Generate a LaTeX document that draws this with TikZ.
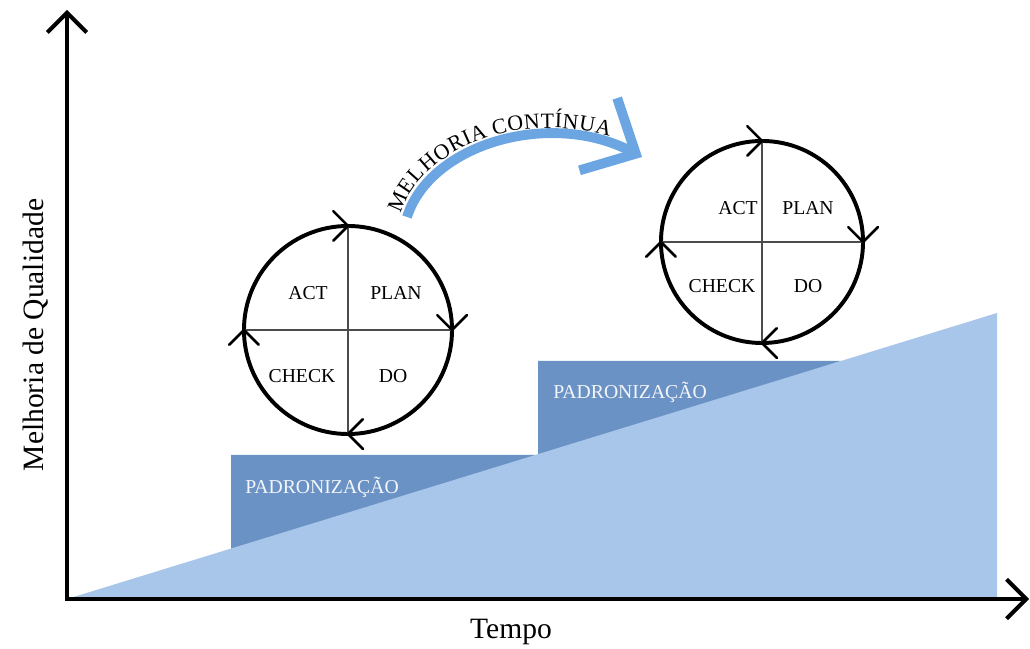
\documentclass[tikz,border=0pt]{standalone}
\usepackage{fontspec}
\setmainfont{Liberation Serif}
\usepackage{tikz}
\usetikzlibrary{arrows.meta,calc,decorations.text}

\definecolor{ramp}{RGB}{168,198,234}
\definecolor{stepblue}{RGB}{107,146,196}
\definecolor{arcblue}{RGB}{108,166,226}
\newcommand{\arcfont}{\fontsize{15.5}{18}\selectfont}

\begin{document}
\begin{tikzpicture}
        [%%%%%%%%%%%%%%%%%%%%%%%%%%%%%%
        x=0.025cm, y=0.025cm,
        axis/.style={line width=2.8pt, {Straight Barb[length=14pt,width=28pt]}-{Straight Barb[length=14pt,width=28pt]}},
        ring/.style={circle, draw, line width=2.8pt, outer sep=0pt, inner sep=0pt},
        quad/.style={line width=1pt, black!70},
        tick/.style={line width=1.8pt, line cap=round},
        pdca/.style={font=\fontsize{14}{16}\selectfont, inner sep=0pt},
        stdz/.style={font=\fontsize{14}{16}\selectfont, text=white!92!stepblue, anchor=west, inner sep=0pt},
        axislbl/.style={font=\fontsize{21}{25}\selectfont, inner sep=0pt},
        arcarrow/.style={line width=7pt, arcblue, -{Straight Barb[length=30pt,width=58pt]}},
        ]%%%%%%%%%%%%%%%%%%%%%%%%%%%%%%
        \useasboundingbox (0,0) rectangle (1030,649);
        % Steps and ramp
        \fill[stepblue] (231,90) -- (231,194) -- (538,194) -- (538,288) -- (841,288) -- cycle;
        \fill[ramp] (67,50) -- (997,336) -- (997,50) -- cycle;
        \node[stdz] (pad1) at (245,162) {PADRONIZAÇÃO};
        \node[stdz] (pad2) at (553,257) {PADRONIZAÇÃO};
        % Axes
        \coordinate (ytop) at (67,639);
        \coordinate (origin) at (67,50);
        \coordinate (xend) at (1029,50);
        \draw[axis] (ytop) -- (origin) -- (xend);
        \node[axislbl, rotate=90] (ylab) at (36,314) {Melhoria de Qualidade};
        \node[axislbl] (xlab) at (511,17) {Tempo};
        % PDCA cycles
        \node[ring, minimum size=5.2cm] (c1) at (348,319) {};
        \node[ring, minimum size=5.05cm] (c2) at (762,407) {};
        \foreach \c in {c1,c2}{
          \draw[quad] (\c.north) -- (\c.south);
          \draw[quad] (\c.west) -- (\c.east);
          \foreach \a in {90,0,-90,180}{
            % clockwise ticks
            \draw[tick] ($(\c.\a)+(\a+45:21)$) -- (\c.\a) -- ($(\c.\a)+(\a+135:21)$);
          }
        }
        \node[pdca] (act1) at ($(c1)+(-40,37)$) {ACT};
        \node[pdca] (plan1) at ($(c1)+(48,37)$) {PLAN};
        \node[pdca] (check1) at ($(c1)+(-46,-46)$) {CHECK};
        \node[pdca] (do1) at ($(c1)+(45,-46)$) {DO};
        \node[pdca] (act2) at ($(c2)+(-24,34)$) {ACT};
        \node[pdca] (plan2) at ($(c2)+(46,34)$) {PLAN};
        \node[pdca] (check2) at ($(c2)+(-40,-44)$) {CHECK};
        \node[pdca] (do2) at ($(c2)+(46,-44)$) {DO};
        % Continuous improvement arrow
        \coordinate (mstart) at (407,432);
        \coordinate (mend) at (642,492);
        \draw[arcarrow] (mstart) .. controls (430,505) and (550,540) .. (mend);
        \path[decorate, decoration={text along path, text={|\arcfont|MELHORIA CONT{Í}NUA}, raise=5pt}]
          (mstart) .. controls (430,505) and (550,540) .. (mend);
      \end{tikzpicture}
\end{document}
